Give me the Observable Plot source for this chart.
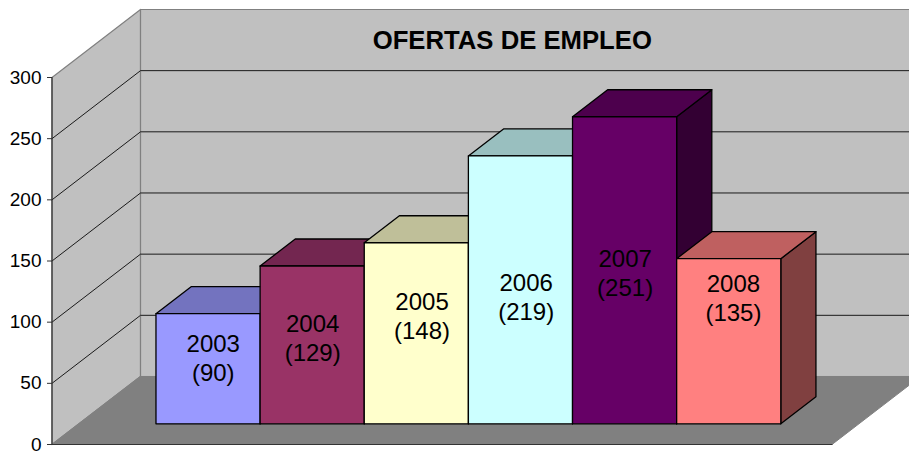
<!DOCTYPE html>
<html>
<head>
<meta charset="utf-8">
<script src="https://cdn.jsdelivr.net/npm/d3@7"></script>
<script src="https://cdn.jsdelivr.net/npm/@observablehq/plot@0.6"></script>
<style>
html,body{margin:0;padding:0;background:#fff;}
svg{display:block;}
</style>
</head>
<body>
<div id="chart"></div>
<script>
const title = "OFERTAS DE EMPLEO";
const years = ["2003", "2004", "2005", "2006", "2007", "2008"];
const offers = [90, 129, 148, 219, 251, 135];
const frontColors = ["#9999FF", "#993366", "#FFFFCC", "#CCFFFF", "#660066", "#FF8080"];
const topColors = ["#7373BF", "#732650", "#BFBF99", "#99BFBF", "#4D004D", "#BF6060"];
const sideColors = ["#4D4D80", "#4D1A33", "#808066", "#668080", "#330033", "#804040"];
const labelHeights = [54.6, 70.6, 88.6, 104.6, 124.2, 103.6];
const labelShifts = [0.05, 0.005, 0.055, 0.055, 0.005, 0.045];
const yTicks = [0, 50, 100, 150, 200, 250, 300];

// Oblique projection, in data units: depth 0 is the front plane, depth 1 the back wall
const depthX = 0.85, depthY = 55.6;
const x0 = -0.74, x1 = 6.75;
const barNear = 0.304, barFar = 0.701;
const pt = (id, color, x, v, d) => ({id, color, x: x + d * depthX, y: v + d * depthY});
const quad = (id, color, corners) => corners.map(([x, v, d]) => pt(id, color, x, v, d));

const wallFaces = [
  ...quad("left", "#C0C0C0", [[x0,0,0],[x0,300,0],[x0,300,1],[x0,0,1]]),
  ...quad("back", "#C0C0C0", [[x0,0,1],[x0,300,1],[x1,300,1],[x1,0,1]])
];
const floorFace = quad("floor", "#808080", [[x0,0,0],[x1,0,0],[x1,0,1],[x0,0,1]]);
const gridLines = yTicks.slice(1, -1).flatMap(v => [pt(v, "", x0, v, 0), pt(v, "", x0, v, 1), pt(v, "", x1, v, 1)]);
const frameLines = [
  pt("a", "", x0, 0, 0), pt("a", "", x0, 300, 0),
  pt("b", "", x0, 0, 0), pt("b", "", x1, 0, 0)
];
const barFaces = years.flatMap((yr, i) => {
  const a = i, b = i + 1, v = offers[i];
  return [
    ...quad(yr + "s", sideColors[i], [[b,0,barNear],[b,v,barNear],[b,v,barFar],[b,0,barFar]]),
    ...quad(yr + "t", topColors[i], [[a,v,barNear],[b,v,barNear],[b,v,barFar],[a,v,barFar]]),
    ...quad(yr + "f", frontColors[i], [[a,0,barNear],[b,0,barNear],[b,v,barNear],[a,v,barNear]])
  ];
});
const labels = years.map((yr, i) => ({
  text: yr + "\n(" + offers[i] + ")",
  x: i + 0.5 + labelShifts[i] + barNear * depthX,
  y: labelHeights[i] + barNear * depthY
}));

const face = (data, stroke, strokeWidth) => Plot.line(data, {
  x: "x", y: "y", z: "id", fill: "color", stroke, strokeWidth, curve: "linear-closed"
});

const plot = Plot.plot({
  width: 909,
  height: 453,
  marginLeft: 52,
  marginRight: 77,
  marginTop: 77,
  marginBottom: 9,
  style: {fontFamily: "'Liberation Sans', Arial, sans-serif", background: "transparent"},
  x: {domain: [x0, x1], range: [51.5, 831.5], axis: null},
  y: {domain: [0, 300], range: [444, 77], axis: null},
  marks: [
    face(wallFaces, "#808080", 1.2),
    face(floorFace, "#808080", 1),
    Plot.line(gridLines, {x: "x", y: "y", z: "id", stroke: "#1a1a1a", strokeWidth: 1}),
    Plot.axisY({
      ticks: yTicks, anchor: "left", tickSize: 5, tickPadding: 6, fontSize: 19,
      stroke: "#333", color: "#000", label: null
    }),
    Plot.line(frameLines, {x: "x", y: "y", z: "id", stroke: "#333", strokeWidth: 1.2}),
    face(barFaces, "#000", 1.3),
    Plot.text(labels, {
      x: "x", y: "y", text: "text", fontSize: 24, lineHeight: 1.22, fill: "#000", lineAnchor: "middle"
    }),
    Plot.text([title], {
      x: [3.68], y: [330], text: d => d, fontSize: 25.7, fontWeight: "bold", fill: "#000"
    })
  ]
});
document.getElementById("chart").append(plot);
</script>
</body>
</html>
